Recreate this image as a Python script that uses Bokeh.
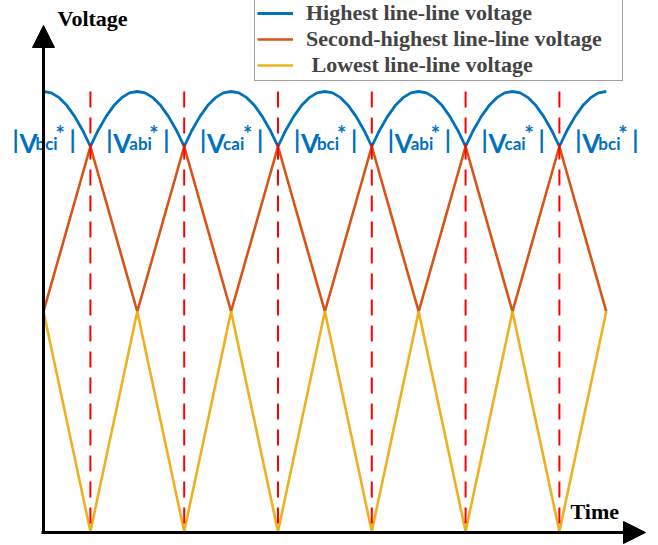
from bokeh.plotting import figure
from bokeh.models import Range1d, Arrow, NormalHead, Legend, LegendItem, ColumnDataSource, Label
from bokeh.core.properties import value
from bokeh.embed import file_html
from bokeh.resources import INLINE

# ---------------- data (time in electrical degrees, voltage in p.u.) ----------------
blue_t = [0, 5, 10, 15, 20, 25, 30, 35, 40, 45, 50, 55,
          60, 65, 70, 75, 80, 85, 90, 95, 100, 105, 110, 115,
          120, 125, 130, 135, 140, 145, 150, 155, 160, 165, 170, 175,
          180, 185, 190, 195, 200, 205, 210, 215, 220, 225, 230, 235,
          240, 245, 250, 255, 260, 265, 270, 275, 280, 285, 290, 295,
          300, 305, 310, 315, 320, 325, 330, 335, 340, 345, 350, 355,
          360]
blue_v = [1.000, 0.997, 0.986, 0.968, 0.943, 0.912, 0.875, 0.912, 0.943, 0.968, 0.986, 0.997,
          1.000, 0.997, 0.986, 0.968, 0.943, 0.912, 0.875, 0.912, 0.943, 0.968, 0.986, 0.997,
          1.000, 0.997, 0.986, 0.968, 0.943, 0.912, 0.875, 0.912, 0.943, 0.968, 0.986, 0.997,
          1.000, 0.997, 0.986, 0.968, 0.943, 0.912, 0.875, 0.912, 0.943, 0.968, 0.986, 0.997,
          1.000, 0.997, 0.986, 0.968, 0.943, 0.912, 0.875, 0.912, 0.943, 0.968, 0.986, 0.997,
          1.000, 0.997, 0.986, 0.968, 0.943, 0.912, 0.875, 0.912, 0.943, 0.968, 0.986, 0.997,
          1.000]
ll_t = [0, 30, 60, 90, 120, 150, 180, 210, 240, 270, 300, 330, 360]
orange_v = [0.5, 0.875, 0.5, 0.875, 0.5, 0.875, 0.5, 0.875, 0.5, 0.875, 0.5, 0.875, 0.5]
yellow_v = [0.5, 0.0, 0.5, 0.0, 0.5, 0.0, 0.5, 0.0, 0.5, 0.0, 0.5, 0.0, 0.5]
sector_t = [30, 90, 150, 210, 270, 330]
sector_top = 1.0
label_t = [0, 60, 120, 180, 240, 300, 360]
label_sub = ["bci", "abi", "cai", "bci", "abi", "cai", "bci"]
label_v = 0.882
legend_labels = ["Highest line-line voltage",
                 "Second-highest line-line voltage",
                 "\u00a0Lowest line-line voltage"]

BLUE = "#0072BD"
ORANGE = "#D95319"
YELLOW = "#EDB120"
TXT_BLUE = "#0070C0"

p = figure(width=658, height=545,
           x_range=Range1d(-27.51, 393.40), y_range=Range1d(-0.03182, 1.20682),
           output_backend="svg", toolbar_location=None, min_border=0,
           x_axis_location=None, y_axis_location=None)
p.grid.visible = False
p.outline_line_color = None
p.background_fill_color = "white"

r_blue = p.line(blue_t, blue_v, line_color=BLUE, line_width=2.8)
r_orange = p.line(ll_t, orange_v, line_color=ORANGE, line_width=2.6)
r_yellow = p.line(ll_t, yellow_v, line_color=YELLOW, line_width=2.6)

p.segment(x0=sector_t, y0=[sector_top] * len(sector_t), x1=sector_t, y1=[0] * len(sector_t),
          line_color="#FF0000", line_width=2, line_dash="16 10")

# axes with arrows
p.add_layout(Arrow(end=NormalHead(size=22, fill_color="black", line_color="black"),
                   x_start=0, y_start=-0.0046, x_end=0, y_end=1.15,
                   line_color="black", line_width=3))
p.add_layout(Arrow(end=NormalHead(size=22, fill_color="black", line_color="black"),
                   x_start=-1.3, y_start=-0.0023, x_end=385.1, y_end=-0.0023,
                   line_color="black", line_width=3))

p.add_layout(Label(x=8.96, y=1.1386, text="Voltage", text_font="Liberation Serif",
                   text_font_style="bold", text_font_size="22px", text_color="black"))
p.add_layout(Label(x=337.1, y=0.018, text="Time", text_font="Liberation Serif",
                   text_font_style="bold", text_font_size="22px", text_color="black"))

# sector labels |V_xyi*|
src = ColumnDataSource(dict(x=label_t, y=[label_v] * len(label_t), sub=label_sub))
common = dict(source=src, text_color=TXT_BLUE, text_font=value("Lato"),
              text_font_style="bold", text_baseline="alphabetic", text_align="left")
p.text(x="x", y="y", text=value("|"), x_offset=-31, y_offset=-4, text_font_size="24px", **common)
p.text(x="x", y="y", text=value("V"), x_offset=-24, text_font_size="26px", **common)
p.text(x="x", y="y", text="sub", x_offset=-8, text_font_size="17px", **common)
p.text(x="x", y="y", text=value("*"), x_offset=12, y_offset=-10, text_font_size="22px", **common)
p.text(x="x", y="y", text=value("|"), x_offset=26, y_offset=-4, text_font_size="24px", **common)

legend = Legend(items=[LegendItem(label=legend_labels[0], renderers=[r_blue]),
                       LegendItem(label=legend_labels[1], renderers=[r_orange]),
                       LegendItem(label=legend_labels[2], renderers=[r_yellow])],
                location=(254, 464), padding=2, spacing=0, margin=0,
                glyph_width=36, glyph_height=20, label_height=24, label_width=314,
                label_standoff=13, label_text_font="Liberation Serif",
                label_text_font_style="bold", label_text_font_size="22px",
                border_line_color="#404040", border_line_width=1,
                background_fill_color="white", background_fill_alpha=1)
p.add_layout(legend)

open("out.html", "w").write(file_html(p, INLINE))
